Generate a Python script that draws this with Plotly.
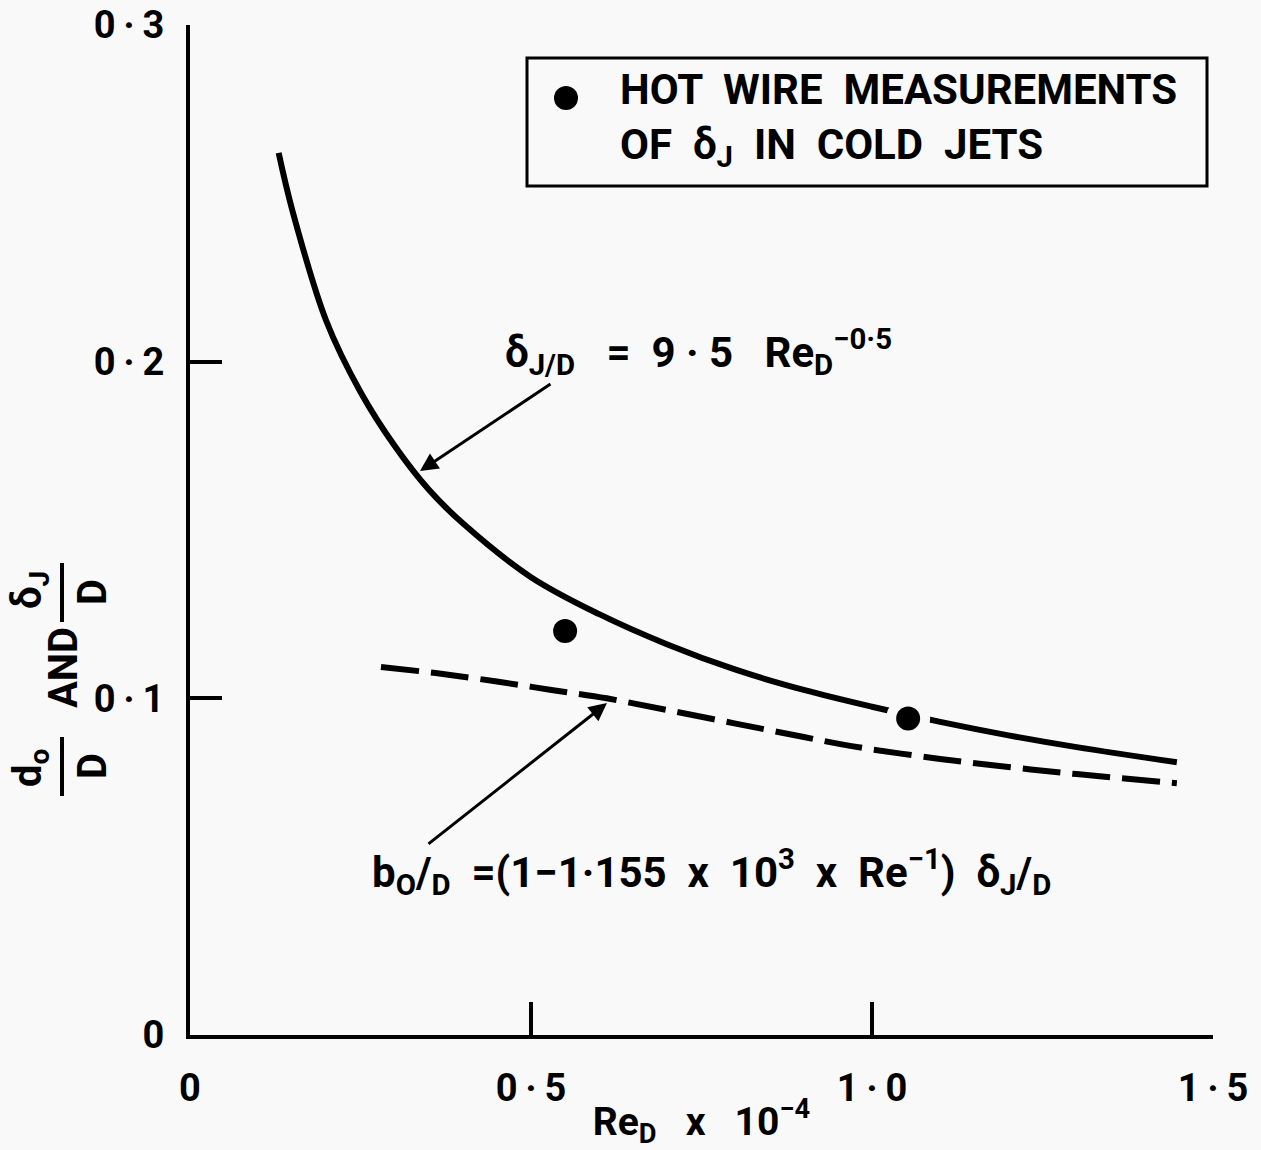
import plotly.graph_objects as go

# ---- data ----
solid_x = [0.13, 0.15, 0.20, 0.25, 0.30, 0.35, 0.40, 0.50, 0.60, 0.70, 0.80, 0.90, 1.00, 1.10, 1.20, 1.30, 1.447]
solid_y = [0.262, 0.245, 0.212, 0.191, 0.175, 0.162, 0.152, 0.136, 0.125, 0.116, 0.1085, 0.1025, 0.0975, 0.093, 0.089, 0.0855, 0.081]

dash_x = [0.28, 0.36, 0.45, 0.53, 0.611, 0.70, 0.80, 0.90, 0.97, 1.10, 1.20, 1.30, 1.447]
dash_y = [0.1093, 0.1075, 0.105, 0.1025, 0.1000, 0.0965, 0.0925, 0.0885, 0.0858, 0.0820, 0.0796, 0.0775, 0.0748]

pts_x = [0.55, 1.053]
pts_y = [0.120, 0.0940]

TS = "\u2009"  # thin space
x_tickvals = [0, 0.5, 1.0, 1.5]
x_ticktext = ["0", f"0{TS}·{TS}5", f"1{TS}·{TS}0", f"1{TS}·{TS}5"]
y_tickvals = [0, 0.1, 0.2, 0.3]
y_ticktext = ["0", f"0{TS}·{TS}1", f"0{TS}·{TS}2", f"0{TS}·{TS}3"]

# ---- layout geometry (pixels) ----
W, H = 1261, 1150
ML, MR, MT, MB = 190, 48, 25, 115
PW, PH = W - ML - MR, H - MT - MB


def px(xp):
    return (xp - ML) / PW


def py(yp):
    return (H - MB - yp) / PH


INK = "black"
BG = "#f9f9f9"
FONT = "Roboto"

fig = go.Figure()

fig.add_trace(go.Scatter(x=dash_x, y=dash_y, mode="lines", line_shape="spline",
                         line=dict(color=INK, width=6, dash="38px,12px"),
                         showlegend=False, hoverinfo="skip"))
fig.add_trace(go.Scatter(x=solid_x, y=solid_y, mode="lines", line_shape="spline",
                         line=dict(color=INK, width=6), showlegend=False, hoverinfo="skip"))
# white halo around the measurement points (gap in the curve)
fig.add_trace(go.Scatter(x=pts_x, y=pts_y, mode="markers",
                         marker=dict(color=BG, size=44, line=dict(width=0)),
                         showlegend=False, hoverinfo="skip"))
fig.add_trace(go.Scatter(x=pts_x, y=pts_y, mode="markers",
                         marker=dict(color=INK, size=24, line=dict(width=0)),
                         name="HOT WIRE MEASUREMENTS OF δJ IN COLD JETS", showlegend=False))

tickfont = dict(family=FONT, size=38, color=INK, weight="bold")

fig.update_xaxes(range=[0, 1.5], showline=True, linewidth=4, linecolor=INK,
                 ticks="inside", ticklen=33, tickwidth=4, tickcolor=INK,
                 tickvals=x_tickvals, ticktext=x_ticktext, tickfont=tickfont,
                 ticklabelstandoff=16, showgrid=False, zeroline=False, automargin=False,
                 title=dict(text="Re<sub>D</sub>   x   10<sup>−4</sup>",
                            font=dict(family=FONT, size=39, color=INK, weight="bold"),
                            standoff=4))
fig.update_yaxes(range=[0, 0.3], showline=True, linewidth=4, linecolor=INK,
                 ticks="inside", ticklen=32, tickwidth=4, tickcolor=INK,
                 tickvals=y_tickvals, ticktext=y_ticktext, tickfont=tickfont,
                 ticklabelstandoff=14, showgrid=False, zeroline=False, automargin=False)

bold = dict(family=FONT, size=40, color=INK, weight="bold")
big = dict(family=FONT, size=42, color=INK, weight="bold")
ann = []
# y-axis title pieces (rotated fractions)
for txt, xp, yp in [("δ<sub>J</sub>", 30, 590), ("D", 92, 592), ("AND", 63, 668),
                    ("d<sub>o</sub>", 30, 768), ("D", 92, 766)]:
    ann.append(dict(text=txt, x=px(xp), y=py(yp), xref="paper", yref="paper",
                    showarrow=False, textangle=-90, font=bold,
                    xanchor="center", yanchor="middle"))
# legend box text
ann.append(dict(text="HOT  WIRE  MEASUREMENTS<br>OF  δ<sub>J</sub>  IN  COLD  JETS",
                x=px(618), y=py(120), xref="paper", yref="paper", showarrow=False,
                align="left", xanchor="left", yanchor="middle", font=big))
# equations
ann.append(dict(text="δ<sub>J/D</sub>   =  9 · 5   Re<sub>D</sub><sup>−0·5</sup>",
                x=px(503), y=py(352), xref="paper", yref="paper", showarrow=False,
                xanchor="left", yanchor="middle", font=big))
ann.append(dict(text="b<sub>O</sub>/<sub>D</sub>  =(1−1·155  x  10<sup>3</sup>  x  Re<sup>−1</sup>)  δ<sub>J</sub>/<sub>D</sub>",
                x=px(370), y=py(872), xref="paper", yref="paper", showarrow=False,
                xanchor="left", yanchor="middle", font=big))
# arrows
ann.append(dict(x=0.3372, y=0.1675, xref="x", yref="y", ax=132, ay=-88, text="",
                showarrow=True, arrowhead=2, arrowsize=1.2, arrowwidth=3, arrowcolor=INK))
ann.append(dict(x=0.6114, y=0.0986, xref="x", yref="y", ax=-180, ay=142, text="",
                showarrow=True, arrowhead=2, arrowsize=1.2, arrowwidth=3, arrowcolor=INK))

shapes = [
    # fraction bars of y title
    dict(type="line", xref="paper", yref="paper", x0=px(62), x1=px(62), y0=py(563), y1=py(622),
         line=dict(color=INK, width=4)),
    dict(type="line", xref="paper", yref="paper", x0=px(62), x1=px(62), y0=py(737), y1=py(796),
         line=dict(color=INK, width=4)),
    # legend frame
    dict(type="rect", xref="paper", yref="paper", x0=px(527), x1=px(1207), y0=py(186), y1=py(58),
         line=dict(color=INK, width=3)),
    # legend marker
    dict(type="circle", xref="paper", yref="paper", xsizemode="pixel", ysizemode="pixel",
         xanchor=px(566), yanchor=py(98), x0=-12, x1=12, y0=-12, y1=12,
         fillcolor=INK, line=dict(color=INK, width=0)),
]

fig.update_layout(width=W, height=H, margin=dict(l=ML, r=MR, t=MT, b=MB),
                  paper_bgcolor=BG, plot_bgcolor=BG, annotations=ann, shapes=shapes,
                  showlegend=False)

fig.write_html("out.html")
